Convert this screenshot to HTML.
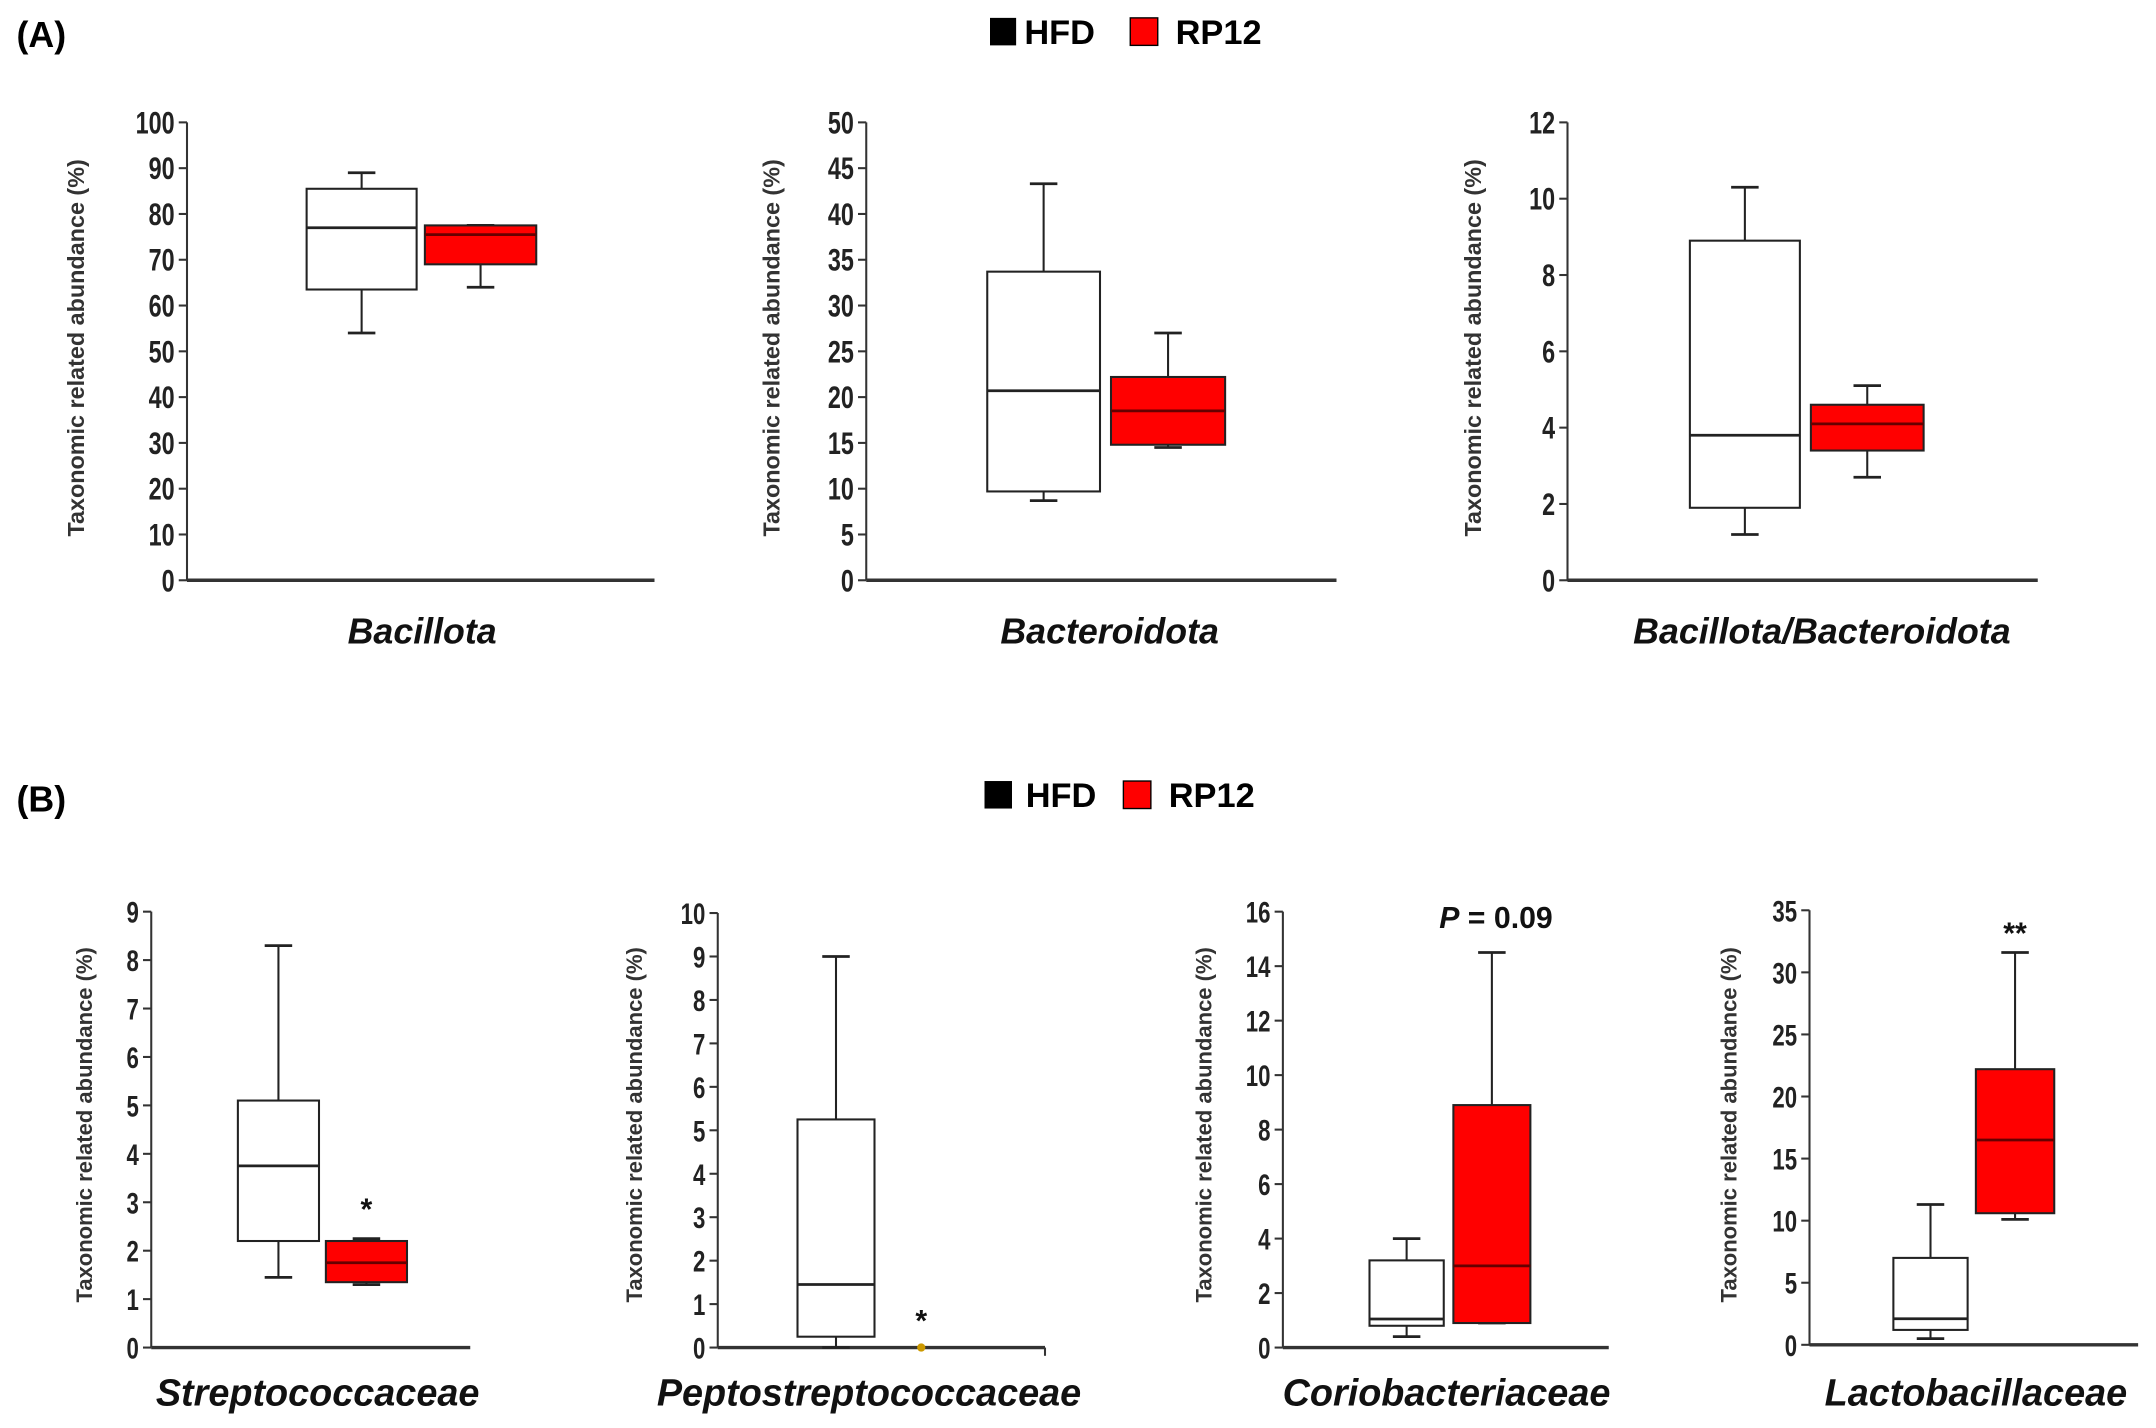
<!DOCTYPE html>
<html><head><meta charset="utf-8">
<style>
html,body{margin:0;padding:0;background:#fff;}
svg{display:block;font-family:"Liberation Sans Narrow","Liberation Sans",sans-serif;}
</style></head>
<body>
<svg id="fig" width="2156" height="1428" viewBox="0 0 1568 1038.5" preserveAspectRatio="none" xmlns="http://www.w3.org/2000/svg">
<text x="12" y="34" font-family="Liberation Sans, sans-serif" font-weight="bold" font-size="26">(A)</text>
<g>
<rect x="720" y="13" width="19" height="20" fill="#000"/>
<text x="745" y="32" font-family="Liberation Sans, sans-serif" font-weight="bold" font-size="25">HFD</text>
<rect x="822" y="13" width="20" height="20" fill="#f00" stroke="#000" stroke-width="1"/>
<text x="855" y="32" font-family="Liberation Sans, sans-serif" font-weight="bold" font-size="25">RP12</text>
</g>
<text x="12" y="590" font-family="Liberation Sans, sans-serif" font-weight="bold" font-size="26">(B)</text>
<g>
<rect x="716" y="568" width="20" height="20" fill="#000"/>
<text x="746" y="587" font-family="Liberation Sans, sans-serif" font-weight="bold" font-size="25">HFD</text>
<rect x="817" y="568" width="20" height="20" fill="#f00" stroke="#000" stroke-width="1"/>
<text x="850" y="587" font-family="Liberation Sans, sans-serif" font-weight="bold" font-size="25">RP12</text>
</g>
</svg>
<script>
// Data: [whiskerLow, q1, median, q3, whiskerHigh]
const categories = ["Bacillota","Bacteroidota","Bacillota/Bacteroidota","Streptococcaceae","Peptostreptococcaceae","Coriobacteriaceae","Lactobacillaceae"];
const hfdValues = [
  [54,63.5,77,85.5,89],
  [8.7,9.7,20.7,33.7,43.3],
  [1.2,1.9,3.8,8.9,10.3],
  [1.45,2.2,3.75,5.1,8.3],
  [0,0.25,1.45,5.25,9],
  [0.4,0.8,1.05,3.2,4.0],
  [0.5,1.2,2.1,7.0,11.3]
];
const rp12Values = [
  [64,69,75.5,77.5,77.5],
  [14.5,14.8,18.5,22.2,27],
  [2.7,3.4,4.1,4.6,5.1],
  [1.3,1.35,1.75,2.2,2.25],
  [0,0,0,0,0],
  [0.9,0.9,3.0,8.9,14.5],
  [10.1,10.6,16.5,22.2,31.6]
];
const yMax = [100,50,12,9,10,16,35];
const yStep = [10,5,2,1,1,2,5];
const annotations = ["","","","*","*","P = 0.09","**"];

// layout (not data)
const L = [
  {ax:136,y0:422,yt:89,xe:476,b1:[223,303],b2:[309,390],lab:307,ly:468,tx:61,ty:253},
  {ax:630,y0:422,yt:89,xe:972,b1:[718,800],b2:[808,891],lab:807,ly:468,tx:567,ty:253},
  {ax:1140,y0:422,yt:89,xe:1482,b1:[1229,1309],b2:[1317,1399],lab:1325,ly:468,tx:1077,ty:253},
  {ax:110,y0:980,yt:663,xe:342,b1:[173,232],b2:[237,296],lab:231,ly:1022,tx:67,ty:818,ann:877},
  {ax:522,y0:980,yt:664,xe:760,b1:[580,636],b2:[650,690],lab:632,ly:1022,tx:467,ty:818,ann:958},
  {ax:933,y0:980,yt:663,xe:1170,b1:[996,1050],b2:[1057,1113],lab:1052,ly:1022,tx:881,ty:818,ann:665},
  {ax:1316,y0:978,yt:662,xe:1555,b1:[1377,1431],b2:[1437,1494],lab:1437,ly:1022,tx:1263,ty:818,ann:676}
];
const NS="http://www.w3.org/2000/svg";
const svg=document.getElementById('fig');
function mk(tag,attrs,parent){const e=document.createElementNS(NS,tag);for(const k in attrs)e.setAttribute(k,attrs[k]);(parent||svg).appendChild(e);return e;}

categories.forEach((cat,i)=>{
  const l=L[i];
  const g=mk('g',{});
  
  
  const y=v=>l.y0-(v/yMax[i])*(l.y0-l.yt);
  const ya=mk('line',{x1:l.ax,y1:l.yt,x2:l.ax,y2:l.y0,stroke:'#333','stroke-width':1.5},g);
  
  
  const xa=mk('line',{x1:l.ax,y1:l.y0,x2:l.xe,y2:l.y0,stroke:'#333','stroke-width':2.5},g);
  
  
  if(i===4){mk('line',{x1:l.xe,y1:l.y0,x2:l.xe,y2:l.y0+6,stroke:'#333','stroke-width':1.5},g);}
  const fs=i<3?20:19;
  for(let v=0;v<=yMax[i]+1e-9;v+=yStep[i]){
    const yy=y(v);
    mk('line',{x1:l.ax-6,y1:yy,x2:l.ax,y2:yy,stroke:'#333','stroke-width':1.5},g);
    const t=mk('text',{x:0,y:0,transform:`translate(${l.ax-9},${yy+8}) scale(0.85,1.15)`,'text-anchor':'end','font-size':fs,'font-weight':'bold',fill:'#222'},g);
    t.textContent=String(v);
    
    
  }
  const yt=mk('text',{x:0,y:0,transform:`translate(${l.tx},${l.ty}) rotate(-90)`,'text-anchor':'middle','font-family':'Liberation Sans, sans-serif','font-size':i<3?17:16,'font-weight':'bold',fill:'#333'},g);
  yt.textContent='Taxonomic related abundance (%)';
  
  
  const xl=mk('text',{x:l.lab,y:l.ly,'text-anchor':'middle','font-family':'Liberation Sans, sans-serif','font-size':i<3?26:27.5,'font-weight':'bold','font-style':'italic',fill:'#111'},g);
  xl.textContent=cat;
  
  
  [[hfdValues[i],l.b1,'#fff','hfd'],[rp12Values[i],l.b2,'#f00','rp12']].forEach(([d,bx,fill,nm])=>{
    const cx=(bx[0]+bx[1])/2;
    if(i===4&&nm==='rp12'){
      const dot=mk('circle',{cx:670,cy:y(d[2]),r:3,fill:'#c90'},g);
      
      
      return;
    }
    const bg=mk('g',{},g);
    
    
    mk('line',{x1:cx,y1:y(d[0]),x2:cx,y2:y(d[1]),stroke:'#222','stroke-width':1.5},bg);
    mk('line',{x1:cx,y1:y(d[3]),x2:cx,y2:y(d[4]),stroke:'#222','stroke-width':1.5},bg);
    mk('line',{x1:cx-10,y1:y(d[0]),x2:cx+10,y2:y(d[0]),stroke:'#222','stroke-width':2},bg);
    mk('line',{x1:cx-10,y1:y(d[4]),x2:cx+10,y2:y(d[4]),stroke:'#222','stroke-width':2},bg);
    mk('rect',{x:bx[0],y:y(d[3]),width:bx[1]-bx[0],height:y(d[1])-y(d[3]),fill:fill,stroke:'#222','stroke-width':1.5},bg);
    mk('line',{x1:bx[0],y1:y(d[2]),x2:bx[1],y2:y(d[2]),stroke:nm==='rp12'?'#600':'#222','stroke-width':2},bg);
  });
  if(annotations[i]){
    const cx=i===4?670:(l.b2[0]+l.b2[1])/2;
    const a=mk('text',{x:i===5?1088:cx,y:l.ann+10,'text-anchor':'middle','font-size':22,'font-weight':'bold',fill:'#111'},g);
    if(i===5){
      const p=mk('tspan',{'font-style':'italic'},a);p.textContent='P';
      const r=mk('tspan',{},a);r.textContent=' = 0.09';
    } else a.textContent=annotations[i];
    
    
  }
});
</script>
</body></html>
